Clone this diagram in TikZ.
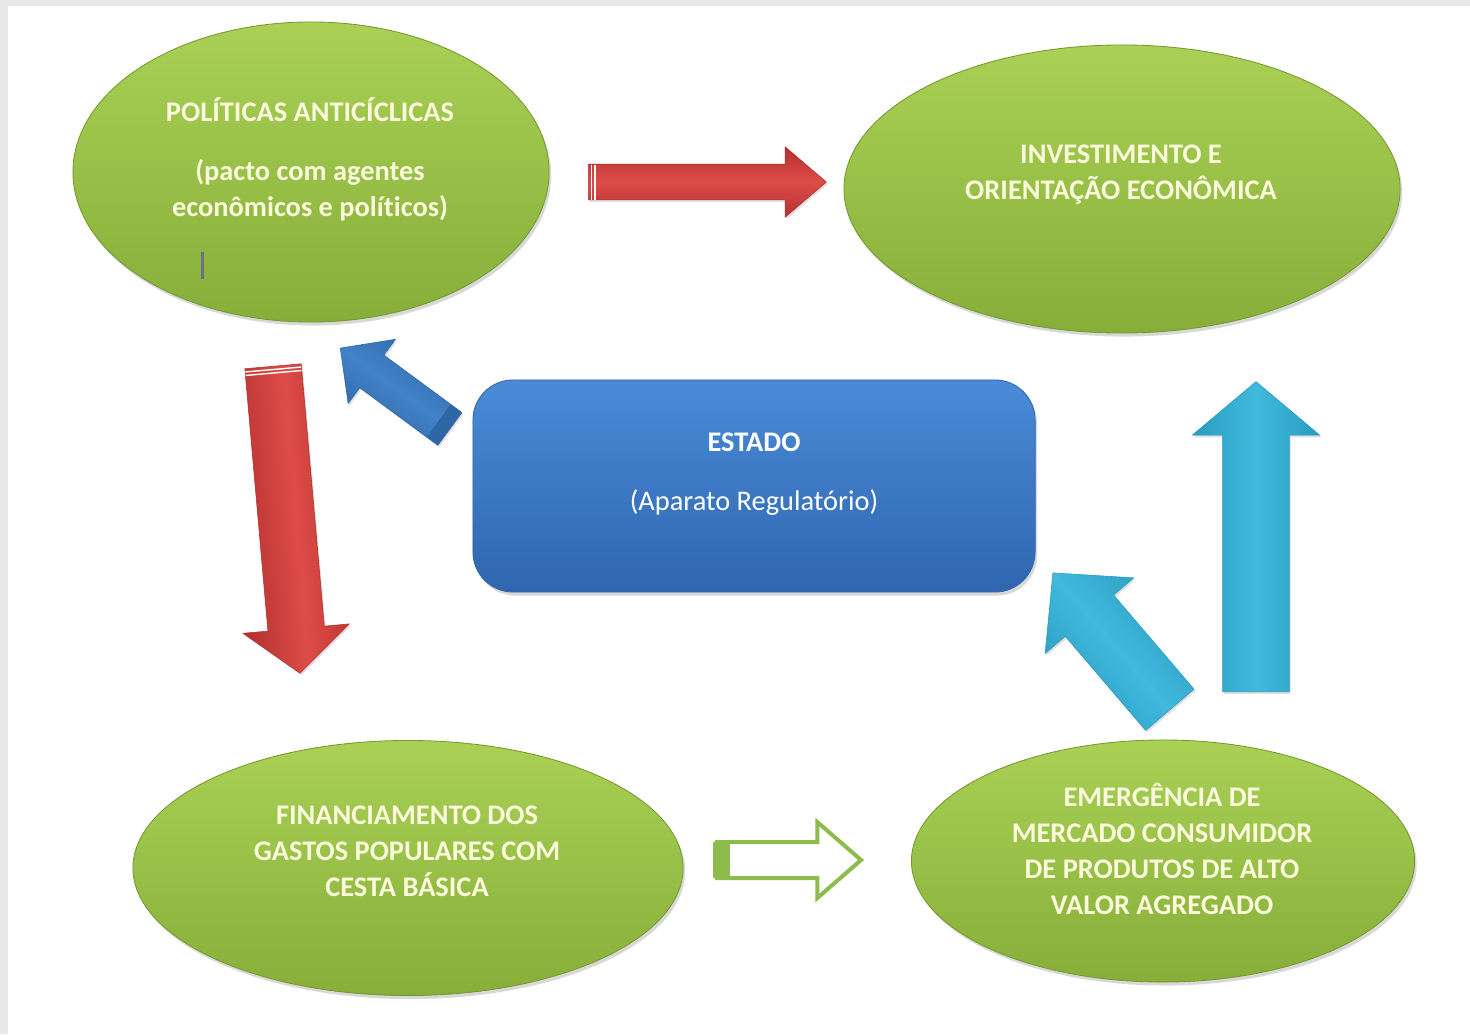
\documentclass[tikz,border=0pt]{standalone}
\usepackage{fontspec}
\setmainfont[Ligatures=NoCommon]{Carlito}
\usetikzlibrary{shapes.geometric,shapes.arrows,positioning,calc,shadows}

\definecolor{grtop}{HTML}{AAD155}
\definecolor{grbot}{HTML}{86AE39}
\definecolor{grline}{HTML}{74992E}
\definecolor{txtcream}{HTML}{FBF9DC}
\definecolor{bltop}{HTML}{4A8BD8}
\definecolor{blbot}{HTML}{2F66AF}
\definecolor{redmid}{HTML}{DE4C48}
\definecolor{rededge}{HTML}{B3302D}
\definecolor{cymid}{HTML}{40B9DD}
\definecolor{cyedge}{HTML}{2A9BC0}
\definecolor{bamid}{HTML}{4282C8}
\definecolor{baedge}{HTML}{2F66A6}
\definecolor{hollow}{HTML}{8DBB4C}
\definecolor{caretgray}{HTML}{6E6E8C}

\begin{document}
\begin{tikzpicture}[x=0.025cm, y=-0.025cm, font=\fontsize{20.2}{25.6}\selectfont]
    \tikzstyle{bubble}=[ellipse, inner sep=0pt, top color=grtop, bottom color=grbot, draw=grline, line width=0.6pt,
        drop shadow={shadow xshift=1.5pt, shadow yshift=-2.5pt, opacity=.3}]
    \tikzstyle{bubbletext}=[align=center, text=txtcream, font=\fontsize{20.2}{25.6}\selectfont\bfseries]
    \tikzstyle{blockarrow}=[single arrow, anchor=tail, inner xsep=0pt, minimum width=0pt,
        text height=0pt, text depth=0pt, drop shadow={shadow xshift=1pt, shadow yshift=-1.5pt, opacity=.25}]
    \tikzstyle{redarrow}=[blockarrow, top color=rededge, bottom color=rededge, middle color=redmid, draw=rededge, line width=0.4pt]
    \tikzstyle{cyanarrow}=[blockarrow, top color=cyedge, bottom color=cyedge, middle color=cymid, draw=cyedge, line width=0.4pt]
    \tikzstyle{bluearrow}=[blockarrow, top color=baedge, bottom color=baedge, middle color=bamid, draw=baedge, line width=0.4pt]

    % frame
    \useasboundingbox (0,0) rectangle (1470,1034);
    \fill[black!9] (0,0) rectangle (1470,1034);
    \fill[white] (8,6) rectangle (1470,1034);

    % bubbles
    \node[bubble, minimum width=11.9cm, minimum height=7.5cm] (pol) at (311,172) {};
    \node[bubble, minimum width=13.9cm, minimum height=7.2cm] (inv) at (1122,189) {};
    \node[bubble, minimum width=13.75cm, minimum height=6.375cm] (fin) at (408,868) {};
    \node[bubble, minimum width=12.575cm, minimum height=6.05cm] (emer) at (1163,861) {};

    % state box
    \node[rounded corners=1cm, minimum width=14.05cm, minimum height=5.3cm, top color=bltop, bottom color=blbot,
        draw=blbot, line width=0.6pt, drop shadow={shadow xshift=1.5pt, shadow yshift=-2.5pt, opacity=.3}]
        (estado) at (754,486) {};

    % texts
    \node[bubbletext] (pol text) at (310,159)
        {POLÍTICAS ANTICÍCLICAS\\[16.4pt] (pacto com agentes\\ econômicos e políticos)};
    \node[fill=caretgray, inner sep=0pt, minimum width=0.075cm, minimum height=0.675cm] (caret) at (202,265) {};
    \node[bubbletext] (inv text) at (1121,175) {INVESTIMENTO E\\ ORIENTAÇÃO ECONÔMICA};
    \node[bubbletext] (fin text) at (407,851) {FINANCIAMENTO DOS\\ GASTOS POPULARES COM\\ CESTA BÁSICA};
    \node[bubbletext] (emer text) at (1162,849) {EMERGÊNCIA DE\\ MERCADO CONSUMIDOR\\ DE PRODUTOS DE ALTO\\ VALOR AGREGADO};
    \node[align=center, text=white] (estado text) at (754,474)
        {\textbf{ESTADO}\\[16.4pt] (Aparato Regulatório)};

    % arrows
    \node[redarrow, minimum height=5.95cm, inner ysep=0.4375cm, single arrow head extend=0.4375cm,
        single arrow tip angle=81] (pol-inv) at (588,182) {};
    \node[redarrow, rotate=-84.97, shading angle=-84.97, minimum height=7.7cm, inner ysep=0.7cm,
        single arrow head extend=0.625cm, single arrow tip angle=100] (pol-fin) at (273,366) {};
    \node[bluearrow, rotate=143.6, shading angle=143.6, minimum height=3.4cm, inner ysep=0.5cm,
        single arrow head extend=0.49cm, single arrow tip angle=91] (estado-pol) at (450,429) {};
    \node[cyanarrow, rotate=130.5, shading angle=130.5, minimum height=4.5cm, inner ysep=0.7875cm,
        single arrow head extend=0.6625cm, single arrow tip angle=92] (emer-estado) at (1170,710) {};
    \node[cyanarrow, rotate=90, shading angle=90, minimum height=7.75cm, inner ysep=0.825cm,
        single arrow head extend=0.7625cm, single arrow tip angle=100] (emer-inv) at (1256,692) {};
    \node[single arrow, anchor=tail, inner xsep=0pt, minimum width=0pt, text height=0pt, text depth=0pt,
        fill=white, draw=hollow, line width=0.1cm, minimum height=3.6cm, inner ysep=0.4cm,
        single arrow head extend=0.5cm, single arrow tip angle=82] (fin-emer) at (715,860) {};

    % tail details
    \begin{scope}[shift={(pol-inv.tail)}]
        \draw[white, line width=1pt] (3.5,-17.5) -- (3.5,17.5) (7,-17.5) -- (7,17.5);
    \end{scope}
    \begin{scope}[shift={(pol-fin.tail)}, rotate=-84.97]
        \draw[white, line width=1pt] (3.5,-28) -- (3.5,28) (7,-28) -- (7,28);
    \end{scope}
    \begin{scope}[shift={(estado-pol.tail)}, rotate=143.6]
        \fill[baedge] (0,-20) rectangle (14,20);
    \end{scope}
    \begin{scope}[shift={(fin-emer.tail)}]
        \fill[hollow] (-2,-18) rectangle (15,18);
    \end{scope}
\end{tikzpicture}
\end{document}
